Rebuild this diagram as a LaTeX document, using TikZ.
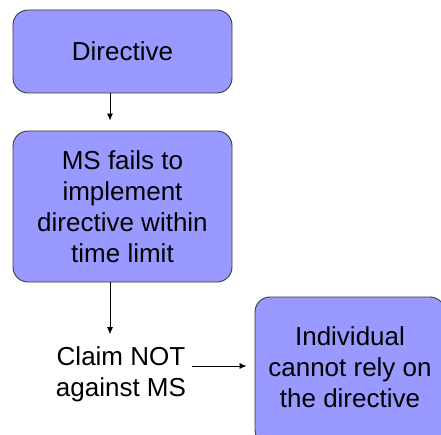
\documentclass[tikz,border=0pt]{standalone}
\usepackage{fontspec}
\setmainfont{Liberation Sans}
\usetikzlibrary{arrows.meta, positioning}
\definecolor{boxblue}{HTML}{9999FF}
\definecolor{edgegray}{HTML}{3A3A3A}

\begin{document}
\begin{tikzpicture}[x=1pt, y=-1pt, >={Latex[length=7pt, width=6pt]},
  stepbox/.style={draw=edgegray, line width=0.9pt, fill=boxblue, rounded corners=15pt,
    align=center, inner sep=0pt, font=\fontsize{26}{31}\selectfont},
  plaintext/.style={align=center, inner sep=0pt, font=\fontsize{26}{31}\selectfont},
  flow/.style={->, line width=0.8pt}]

\useasboundingbox (0,0) rectangle (441,435);

% Boxes
\node[stepbox, minimum width=219pt, minimum height=83pt] (dir) at (122.5,51.5) {Directive};
\node[stepbox, minimum width=219pt, minimum height=151pt] (fail) at (122.5,206.5)
  {MS fails to\\implement\\directive within\\time limit};
\node[plaintext] (claim) at (121,374) {Claim NOT\\against MS};
\node[stepbox, minimum width=190pt, minimum height=148pt, text depth=7pt] (rely) at (350,371)
  {Individual\\cannot rely on\\the directive};

% Arrows
\draw[flow, shorten >=10pt] ([xshift=-12.5pt]dir.south) -- ([xshift=-12.5pt]fail.north);
\draw[flow] ([xshift=-12.5pt]fail.south) -- ([xshift=-12.5pt, yshift=12pt]fail.south |- claim.north);
\draw[flow, shorten <=6pt, shorten >=8pt] ([yshift=8pt]claim.east) -- ([yshift=8pt]claim.east -| rely.west);

\end{tikzpicture}
\end{document}
